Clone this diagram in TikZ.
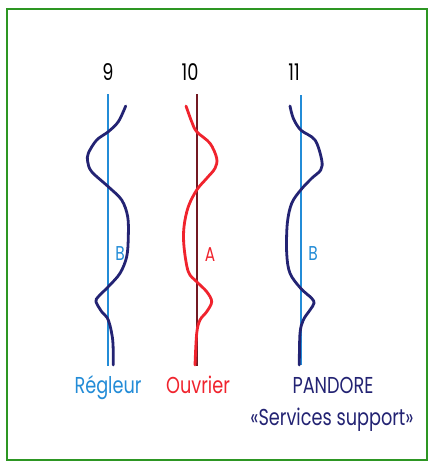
\documentclass[tikz,border=0pt]{standalone}
\usepackage{fontspec}
\setmainfont{Poppins}[FakeStretch=0.77]
\definecolor{lblue}{RGB}{35,140,215}
\definecolor{navy}{RGB}{35,35,115}
\definecolor{cred}{RGB}{240,35,45}
\definecolor{dred}{RGB}{115,25,35}
\definecolor{framegreen}{RGB}{45,150,35}
\begin{document}
\begin{tikzpicture}[x=1pt,y=-1pt,
  axisline/.style={line width=2pt},
  wave/.style={line width=2.8pt, line cap=round, line join=round},
  lab/.style={font=\fontsize{23}{25}\selectfont, inner sep=0pt, anchor=base},
  small/.style={font=\fontsize{20}{22}\selectfont, inner sep=0pt, anchor=base}]
\useasboundingbox (0,0) rectangle (429,463);
\fill[white] (0,0) rectangle (429,463);
\draw[framegreen, line width=2pt] (7,9) rectangle (427,460);

% numbers
\node[lab] (n9) at (108,80) {9};
\node[lab] (n10) at (190,80) {10};
\node[lab] (n11) at (294,80) {11};

% vertical axes
\coordinate (t9) at (108,94);  \coordinate (b9) at (108,366);
\coordinate (t10) at (197,94); \coordinate (b10) at (197,366);
\coordinate (t11) at (301,95); \coordinate (b11) at (301,365);
\draw[axisline, lblue] (t9) -- (b9);
\draw[axisline, dred] (t10) -- (b10);
\draw[axisline, lblue] (t11) -- (b11);

% waves
\draw[wave, navy] plot[smooth, tension=0.55] coordinates {
 (125.7,106) (118.3,121.7) (108.3,131.7) (96.7,140) (88.3,153.3) (87.7,161.7)
 (91.7,171.7) (108.3,186.7) (121.7,200) (127.7,216.7) (128.3,236.7) (126.7,256.7)
 (120,273.3) (108.3,286.7) (98.3,296.7) (96,301.7) (101.7,311.7) (108.3,320)
 (112.7,340) (113.3,365)};
\draw[wave, cred] plot[smooth, tension=0.55] coordinates {
 (186,106) (191.7,121.7) (196.7,131.7) (210,143.3) (216.7,158.3) (215,168.3)
 (206.7,178.3) (196.7,190) (188.3,206.7) (184,226.7) (184,246.7) (188.3,271.7)
 (196.7,281.7) (206.7,291.7) (211.7,301.7) (206.7,311.7) (200,320) (196.7,333.3)
 (195,365)};
\draw[wave, navy] plot[smooth, tension=0.55] coordinates {
 (290,106) (293.3,118.3) (300.7,130) (315,140) (321.7,160) (320.7,170)
 (311.7,178.3) (300.7,190) (291.7,203.3) (287.3,223.3) (286.7,253.3) (290,273.3)
 (300.7,288.3) (311.7,298.3) (314,303.3) (310,310) (303.3,320) (300,333.3)
 (299.3,365)};

% letters
\node[small, text=lblue] (lb1) at (120,260) {B};
\node[small, text=cred] (la) at (210,261) {A};
\node[small, text=lblue] (lb2) at (313,260) {B};

% bottom labels
\node[lab, text=lblue] (reg) at (108,393) {Régleur};
\node[lab, text=cred] (ouv) at (198,393) {Ouvrier};
\node[lab, text=navy] (pan) at (333,393) {PANDORE};
\node[lab, text=navy] (serv) at (332,425) {«Services support»};
\end{tikzpicture}
\end{document}
